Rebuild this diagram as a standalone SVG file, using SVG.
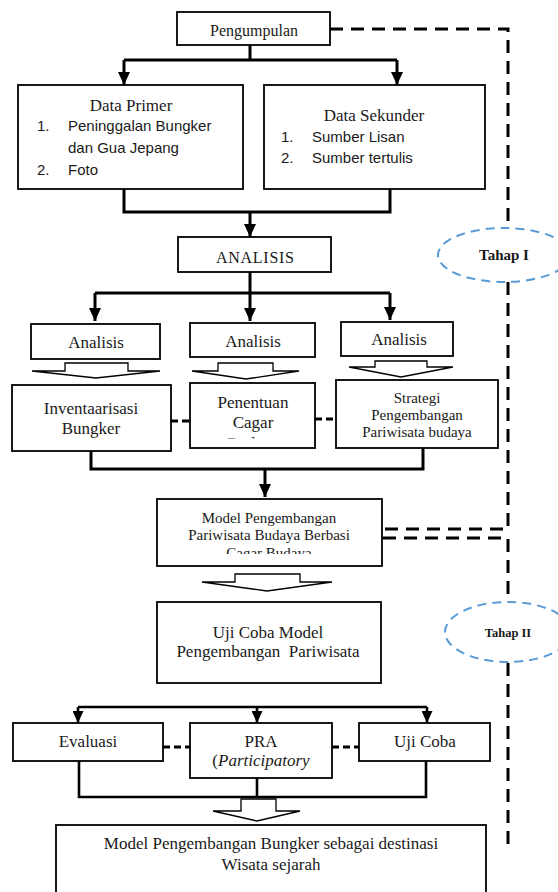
<svg xmlns="http://www.w3.org/2000/svg" width="558" height="892" viewBox="0 0 558 892">
<style>
.box{fill:#fff;stroke:#000;stroke-width:1.8}
.ln{fill:none;stroke:#000;stroke-width:3}
.ln2{fill:none;stroke:#000;stroke-width:2.6}
.dash{fill:none;stroke:#000;stroke-width:3;stroke-dasharray:13 8}
.sd{fill:none;stroke:#000;stroke-width:3;stroke-dasharray:7 4}
.ha{fill:#fff;stroke:#000;stroke-width:1.3;stroke-linejoin:miter}
.ell{fill:none;stroke:#5B9BD5;stroke-width:2;stroke-dasharray:9 6}
.s{font-family:"Liberation Serif","Times New Roman","DejaVu Serif",serif;fill:#1a1a1a;text-anchor:middle}
.ss{font-family:"Liberation Sans",Arial,sans-serif;fill:#1a1a1a;font-size:15px}
.it{font-family:"Liberation Serif","Times New Roman","DejaVu Serif",serif;font-style:italic}
.f17{font-size:17px}
.f16{font-size:16px}
.f15{font-size:15px}
.b{font-weight:bold}
</style>
<defs>
<marker id="ah" markerUnits="userSpaceOnUse" markerWidth="13" markerHeight="12" refX="13" refY="6" orient="auto">
<path d="M0,0 L13,6 L0,12 z" fill="#000"/>
</marker>
<marker id="ah2" markerUnits="userSpaceOnUse" markerWidth="12" markerHeight="11" refX="12" refY="5.5" orient="auto">
<path d="M0,0 L12,5.5 L0,11 z" fill="#000"/>
</marker>
<clipPath id="clipPen"><rect x="190" y="383" width="125" height="55.5"/></clipPath>
<clipPath id="clipMod"><rect x="157" y="499" width="225" height="55"/></clipPath>
</defs>

<g id="connectors">
<path class="ln" d="M250,45 V60 M124,60 H397"/>
<path class="ln" d="M124,60 V85" marker-end="url(#ah)"/>
<path class="ln" d="M397,60 V85" marker-end="url(#ah)"/>
<path class="ln" d="M124,189 V212 H390 V189"/>
<path class="ln" d="M250,212 V237" marker-end="url(#ah)"/>
<path class="ln" d="M250,272 V293 M95,293 H390"/>
<path class="ln" d="M95,293 V321" marker-end="url(#ah)"/>
<path class="ln" d="M250,293 V321" marker-end="url(#ah)"/>
<path class="ln" d="M390,293 V320" marker-end="url(#ah)"/>
<path class="sd" d="M171,421 H190"/>
<path class="sd" d="M315,419 H336"/>
<path class="ln" d="M91,451 V469 H423 V448"/>
<path class="ln" d="M265,469 V497" marker-end="url(#ah)"/>
<path class="ln2" d="M78,707 H427"/>
<path class="ln2" d="M78,707 V723" marker-end="url(#ah2)"/>
<path class="ln2" d="M257,707 V723" marker-end="url(#ah2)"/>
<path class="ln2" d="M427,707 V723" marker-end="url(#ah2)"/>
<path class="sd" d="M163,747 H190"/>
<path class="sd" d="M332,747 H359"/>
<path class="ln2" d="M79,761 V797 H426 V761 M257,778 V797"/>
<path class="dash" d="M330,29 H508 V228"/>
<path class="dash" d="M508,282 V529 H383"/>
<path class="dash" d="M383,538 H508 V602"/>
<path class="dash" d="M508,663 V847"/>
<polygon class="ha" points="65,363 128,363 128,371 160,371 96,378 32,371 65,371"/>
<polygon class="ha" points="218,363 273,363 273,371 299,371 246,379 192,371 218,371"/>
<polygon class="ha" points="375,361 427,361 427,367 453,367 401,377 349,367 375,367"/>
<polygon class="ha" points="235,574 300,574 300,582 332,582 267,591 202,582 235,582"/>
<polygon class="ha" points="241,799 276,799 276,811 300,811 257,821 213,811 241,811"/>
</g>

<g id="pengumpulan">
<rect class="box" x="177" y="12" width="153" height="33"/>
<text class="s f16" x="254" y="36">Pengumpulan</text>
</g>

<g id="data-primer">
<rect class="box" x="18" y="85" width="225" height="104"/>
<text class="s f17" x="131" y="111">Data Primer</text>
<text class="ss" x="37" y="131">1.</text>
<text class="ss" x="68" y="131">Peninggalan Bungker</text>
<text class="ss" x="68" y="153">dan Gua Jepang</text>
<text class="ss" x="37" y="175">2.</text>
<text class="ss" x="68" y="175">Foto</text>
</g>

<g id="data-sekunder">
<rect class="box" x="264" y="85" width="221" height="104"/>
<text class="s f17" x="374" y="121">Data Sekunder</text>
<text class="ss" x="281" y="142">1.</text>
<text class="ss" x="312" y="142">Sumber Lisan</text>
<text class="ss" x="281" y="163">2.</text>
<text class="ss" x="312" y="163">Sumber tertulis</text>
</g>

<g id="analisis-main">
<rect class="box" x="178" y="237" width="153" height="35"/>
<text class="s f16" x="255" y="263" textLength="78">ANALISIS</text>
</g>

<g id="analisis-1">
<rect class="box" x="31" y="324" width="129" height="35"/>
<text class="s f17" x="96" y="348">Analisis</text>
</g>
<g id="analisis-2">
<rect class="box" x="190" y="323" width="125" height="34"/>
<text class="s f17" x="253" y="347">Analisis</text>
</g>
<g id="analisis-3">
<rect class="box" x="341" y="322" width="112" height="34"/>
<text class="s f17" x="399" y="345">Analisis</text>
</g>

<g id="inventaarisasi">
<rect class="box" x="12" y="385" width="159" height="66"/>
<text class="s f17" x="91" y="414">Inventaarisasi</text>
<text class="s f17" x="91" y="434">Bungker</text>
</g>

<g id="penentuan">
<rect class="box" x="190" y="383" width="125" height="65"/>
<text class="s f17" x="253" y="408">Penentuan</text>
<text class="s f17" x="253" y="428">Cagar</text>
<text class="s f17" x="253" y="449" clip-path="url(#clipPen)">Budaya</text>
</g>

<g id="strategi">
<rect class="box" x="336" y="380" width="162" height="68"/>
<text class="s f15" x="417" y="403">Strategi</text>
<text class="s f15" x="417" y="420">Pengembangan</text>
<text class="s f15" x="417" y="437">Pariwisata budaya</text>
</g>

<g id="tahap-1">
<ellipse class="ell" cx="504" cy="255" rx="66" ry="27"/>
<text class="s b" font-size="15" x="504" y="260">Tahap I</text>
</g>

<g id="model">
<rect class="box" x="157" y="499" width="225" height="67"/>
<text class="s f15" x="269" y="523">Model Pengembangan</text>
<text class="s f15" x="269" y="540">Pariwisata Budaya Berbasi</text>
<text class="s f15" x="269" y="558" clip-path="url(#clipMod)">Cagar Budaya</text>
</g>

<g id="uji-coba-model">
<rect class="box" x="157" y="602" width="224" height="81"/>
<text class="s f17" x="268" y="638">Uji Coba Model</text>
<text class="s f17" x="268" y="657" xml:space="preserve">Pengembangan  Pariwisata</text>
</g>

<g id="tahap-2">
<ellipse class="ell" cx="508" cy="632" rx="63" ry="30"/>
<text class="s b" font-size="12.5" x="508" y="637">Tahap II</text>
</g>

<g id="evaluasi">
<rect class="box" x="13" y="723" width="150" height="38"/>
<text class="s f17" x="88" y="747">Evaluasi</text>
</g>

<g id="pra">
<rect class="box" x="190" y="723" width="142" height="55"/>
<text class="s f17" x="261" y="747">PRA</text>
<text class="s f17" x="261" y="766">(<tspan class="it">Participatory</tspan></text>
</g>

<g id="uji-coba">
<rect class="box" x="359" y="723" width="131" height="38"/>
<text class="s f17" x="425" y="747">Uji Coba</text>
</g>

<g id="model-final">
<rect class="box" x="56" y="825" width="430" height="75"/>
<text class="s f17" x="271" y="849">Model Pengembangan Bungker sebagai destinasi</text>
<text class="s f17" x="271" y="870">Wisata sejarah</text>
</g>
</svg>
